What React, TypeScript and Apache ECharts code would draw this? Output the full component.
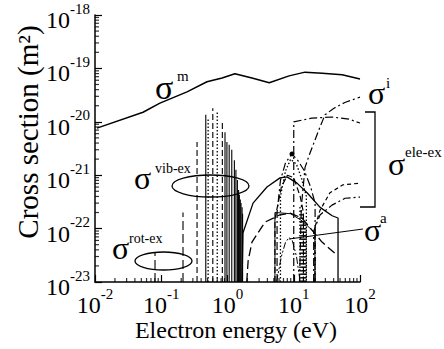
import React, { useEffect, useRef } from "react";
import * as echarts from "echarts";

const FONT = '"Liberation Serif", "Times New Roman", Times, serif';
// cross sections are plotted in units of 1e-23 m^2 (ECharts rounds tiny numbers to 0)
const UNIT = 1e-23;
const UNIT_EXP = -23;
const X_MIN = 0.01;
const X_MAX = 100;
const Y_MIN = 1e-23;
const Y_MAX = 1e-18;

// sigma^m (momentum transfer) — solid
const momE = [0.0107, 0.0531, 0.0955, 0.245, 0.49, 0.83, 1.29, 2.34, 4.27, 8.5, 14.8, 26.9, 53.7, 100];
const momS = [7.6e-21, 1.51e-20, 2.24e-20, 3.63e-20, 5.62e-20, 6.61e-20, 7.94e-20, 6.61e-20, 5.37e-20, 7.24e-20, 8.51e-20, 8.13e-20, 7.59e-20, 6.31e-20];

// rotational + vibrational excitation spikes (energy, peak, style)
const spikeE = [0.0805, 0.213, 0.347, 0.47, 0.51, 0.6, 0.7, 0.836, 0.917, 0.98, 1.06, 1.16, 1.27, 1.34, 1.41, 1.47, 1.51, 1.56, 1.6, 1.66, 1.69,
  12.4, 12.9, 13.4, 13.9, 14.4, 14.9, 15.4];
const spikeS = [3.5e-23, 2.0e-22, 4.2e-21, 1.35e-20, 1.2e-20, 1.8e-20, 1.5e-20, 9.5e-21, 6.4e-21, 4.2e-21, 3.7e-21, 3.0e-21, 1.9e-21, 1.26e-21, 8.1e-22, 5.3e-22, 4.3e-22, 3.5e-22, 3.0e-22, 2.5e-22, 1.9e-22,
  2.6e-22, 2.3e-22, 2.0e-22, 1.8e-22, 1.5e-22, 1.2e-22, 1.0e-22];
const spikeStyle = ["long", "long", "dashed", "solid", "dotted", "dashed", "dotted", "dashed", "solid", "solid", "solid", "solid", "solid", "solid", "solid", "solid", "solid", "solid", "solid", "solid", "solid",
  "dotted", "dotted", "dotted", "dotted", "dotted", "dotted", "dotted"];

// electronic excitation curves
const exSolidE = [1.66, 1.71, 2.43, 3.94, 6.2, 7.9, 11.2, 15.9, 25, 38, 46.6, 46.6];
const exSolidS = [1e-23, 8.3e-23, 3.0e-22, 6.0e-22, 8.9e-22, 9.3e-22, 7.1e-22, 4.7e-22, 2.5e-22, 1.74e-22, 1.58e-22, 1e-23];
const exDashE = [1.95, 2.05, 2.34, 3.68, 6.0, 8.8, 13.3, 26.7, 44.7];
const exDashS = [1e-23, 2.5e-23, 5.6e-23, 1.32e-22, 1.78e-22, 1.95e-22, 1.58e-22, 5.6e-23, 3.2e-23];
const exStepE = [10, 10, 18.8, 37.8, 68, 100];
const exStepS = [1e-23, 1.0e-20, 1.17e-20, 1.23e-20, 1.12e-20, 9.5e-21];
const exUpE = [20.9, 20.9, 24.9, 35.2, 55.4, 100];
const exUpS = [1e-23, 1.07e-22, 2.2e-22, 4.7e-22, 6.6e-22, 7.1e-22];
const exLowE = [20, 20, 24.9, 37.8, 59.4, 100];
const exLowS = [1e-23, 9e-23, 1.8e-22, 2.75e-22, 3.7e-22, 3.9e-22];
const peak1E = [5.6, 5.6, 6.3, 7.5, 9.4, 11.5, 14.5, 18, 21, 21];
const peak1S = [1e-23, 2e-22, 8e-22, 1.7e-21, 2.5e-21, 1.9e-21, 1.2e-21, 6e-22, 3e-22, 1e-23];
const peak2E = [6.3, 6.3, 7.5, 9, 11, 13, 15.5, 15.5];
const peak2S = [1e-23, 4e-22, 1.2e-21, 2.0e-21, 1.6e-21, 9e-22, 4e-22, 1e-23];
const peak3E = [5.2, 5.2, 6.5, 8, 10, 12.5, 14, 14];
const peak3S = [1e-23, 1.5e-22, 6e-22, 1.0e-21, 9e-22, 4e-22, 2e-22, 1e-23];
const ex6E = [5.2, 5.2, 9, 13.3, 20.9, 20.9];
const ex6S = [1e-23, 2e-22, 1.9e-22, 1.4e-22, 8.3e-23, 1e-23];

// sigma^i (ionization)
const ionE = [12.2, 13, 14.8, 17.6, 24, 29.6, 40.5, 59, 100];
const ionS = [1e-23, 2.5e-22, 1.4e-21, 2.6e-21, 7.1e-21, 1.35e-20, 1.8e-20, 2.3e-20, 2.9e-20];

// sigma^a (attachment)
const attE = [5.5, 6.5, 7.5, 8.5, 9.5, 11, 12.5];
const attS = [1e-23, 3e-23, 5.5e-23, 6.8e-23, 6e-23, 3e-23, 1e-23];

// minor tick positions (2..9 within each decade)
const minorMult = [2, 3, 4, 5, 6, 7, 8, 9];
const xDecades = [-2, -1, 0, 1];
const yDecades = [-23, -22, -21, -20, -19];

const DASH: Record<string, any> = {
  solid: "solid",
  dashed: [6, 3],
  long: [9, 4],
  dotted: [1.5, 2],
  dashdot: [8, 3, 2, 3],
  dashdotdot: [7, 2, 2, 2, 2, 2],
  short: [4, 3],
};

const u = (s: number) => s / UNIT;
const pair = (xs: number[], ys: number[]) => xs.map((x, i) => [x, u(ys[i])]);

function curve(name: string, xs: number[], ys: number[], dash: string, width = 1.2, extra: any = {}) {
  return {
    name,
    type: "line",
    data: pair(xs, ys),
    showSymbol: false,
    symbol: "none",
    smooth: false,
    lineStyle: { color: "#000", width, type: DASH[dash] },
    silent: true,
    z: 3,
    ...extra,
  };
}

const labelRich = {
  b: { fontFamily: FONT, fontSize: 24, lineHeight: 38, color: "#000" },
  s: { fontFamily: FONT, fontSize: 15, lineHeight: 15, verticalAlign: "top", color: "#000" },
};
const xFmt = (v: number) => `{b|10}{s|${Math.round(Math.log10(v))}}`;
const yFmt = (v: number) => `{b|10}{s|${Math.round(Math.log10(v)) + UNIT_EXP}}`;

function txt(text: string, x: number, y: number, size: number, extra: any = {}) {
  return {
    type: "text",
    x,
    y,
    silent: true,
    z: 100,
    style: {
      text,
      fontFamily: FONT,
      fontSize: size,
      fill: "#000",
      align: "left",
      textAlign: "left",
      verticalAlign: "middle",
      textVerticalAlign: "middle",
      ...extra,
    },
  };
}

export default function App() {
  const ref = useRef<HTMLDivElement>(null);
  useEffect(() => {
    const chart = echarts.init(ref.current!, null, { renderer: "svg" });
    const xMinor = xDecades.flatMap((d) => minorMult.map((m) => [m * Math.pow(10, d), u(Y_MIN)]));
    const yMinor = yDecades.flatMap((d) => minorMult.map((m) => [X_MIN, m * Math.pow(10, d - UNIT_EXP)]));
    const line = { color: "#000", width: 1.5 };
    const option: any = {
      animation: false,
      backgroundColor: "#fff",
      grid: { left: 95, top: 15, width: 265, height: 267 },
      xAxis: {
        type: "log",
        logBase: 10,
        min: X_MIN,
        max: X_MAX,
        splitNumber: 4,
        axisLine: { show: true, lineStyle: line },
        axisTick: { show: true, inside: true, length: 7, lineStyle: { color: "#000", width: 1.2 } },
        splitLine: { show: false },
        axisLabel: { formatter: xFmt, rich: labelRich, margin: 4, color: "#000" },
      },
      yAxis: {
        type: "log",
        logBase: 10,
        min: u(Y_MIN),
        max: u(Y_MAX),
        splitNumber: 5,
        axisLine: { show: true, lineStyle: line },
        axisTick: { show: true, inside: true, length: 7, lineStyle: { color: "#000", width: 1.2 } },
        splitLine: { show: false },
        axisLabel: { formatter: yFmt, rich: labelRich, margin: 5, padding: [10, 0, 0, 0], color: "#000" },
      },
      series: [
        curve("σm", momE, momS, "solid", 1.5),
        {
          name: "spikes",
          type: "custom",
          silent: true,
          z: 2,
          data: spikeE.map((e, i) => [e, u(spikeS[i]), i]),
          encode: { x: 0, y: 1 },
          renderItem: (_p: any, api: any) => {
            const e = api.value(0);
            const s = api.value(1);
            const k = api.value(2);
            const p0 = api.coord([e, u(Y_MIN)]);
            const p1 = api.coord([e, s]);
            const st = spikeStyle[k];
            return {
              type: "line",
              shape: { x1: p0[0], y1: p0[1], x2: p1[0], y2: p1[1] },
              style: { stroke: "#000", lineWidth: st === "dotted" ? 1.3 : 1.1, lineDash: st === "solid" ? null : DASH[st] },
            };
          },
        },
        curve("exSolid", exSolidE, exSolidS, "solid", 1.3),
        curve("exDash", exDashE, exDashS, "long", 1.3),
        curve("exStep", exStepE, exStepS, "dashdot", 1.2),
        curve("exUp", exUpE, exUpS, "short", 1.2),
        curve("exLow", exLowE, exLowS, "dashdot", 1.2),
        curve("peak1", peak1E, peak1S, "dashdot", 1.2, {
          markPoint: {
            silent: true,
            symbol: "circle",
            symbolSize: 5,
            itemStyle: { color: "#000" },
            label: { show: false },
            data: [{ coord: [peak1E[4], u(peak1S[4])] }],
          },
        }),
        curve("peak2", peak2E, peak2S, "dotted", 1.3),
        curve("peak3", peak3E, peak3S, "dashed", 1.2),
        curve("ex6", ex6E, ex6S, "solid", 1.0),
        curve("σi", ionE, ionS, "dashdot", 1.2),
        curve("σa", attE, attS, "dashdotdot", 1.0),
        {
          name: "xminor",
          type: "scatter",
          silent: true,
          symbol: "rect",
          symbolSize: [1.2, 4],
          symbolOffset: [0, -2],
          itemStyle: { color: "#000" },
          data: xMinor,
          z: 5,
        },
        {
          name: "yminor",
          type: "scatter",
          silent: true,
          symbol: "rect",
          symbolSize: [4, 1.2],
          symbolOffset: [2, 0],
          itemStyle: { color: "#000" },
          data: yMinor,
          z: 5,
        },
      ],
      graphic: [
        txt("Electron energy (eV)", 236, 330, 24, { align: "center", textAlign: "center" }),
        {
          type: "text",
          x: 28,
          y: 132,
          rotation: Math.PI / 2,
          silent: true,
          style: {
            text: "Cross section (m²)",
            fontFamily: FONT,
            fontSize: 29,
            fill: "#000",
            align: "center",
            textAlign: "center",
            verticalAlign: "middle",
            textVerticalAlign: "middle",
          },
        },
        { type: "ellipse", silent: true, z: 50, shape: { cx: 210.5, cy: 186, rx: 38.5, ry: 11 }, style: { fill: "none", stroke: "#000", lineWidth: 1.3 } },
        { type: "ellipse", silent: true, z: 50, shape: { cx: 163.5, cy: 261, rx: 28.5, ry: 9 }, style: { fill: "none", stroke: "#000", lineWidth: 1.3 } },
        { type: "polyline", silent: true, z: 50, shape: { points: [[365, 112], [375, 112], [375, 207], [360, 207]] }, style: { fill: "none", stroke: "#000", lineWidth: 1.3 } },
        { type: "line", silent: true, z: 50, shape: { x1: 363, y1: 229, x2: 289, y2: 239 }, style: { stroke: "#000", lineWidth: 1 } },
        txt("σ", 155, 87, 34),
        txt("m", 177, 76, 15),
        txt("σ", 134, 178, 32),
        txt("vib-ex", 155, 168, 14),
        txt("σ", 112, 248, 32),
        txt("rot-ex", 129, 238, 14),
        txt("σ", 368, 93, 32),
        txt("i", 386, 83, 15),
        txt("σ", 388, 164, 32),
        txt("ele-ex", 405, 152, 15),
        txt("σ", 364, 230, 32),
        txt("a", 380, 218, 15),
      ],
    };
    chart.setOption(option);
    return () => chart.dispose();
  }, []);
  return <div ref={ref} style={{ position: "fixed", left: 0, top: 0, width: 444, height: 349, background: "#fff" }} />;
}
